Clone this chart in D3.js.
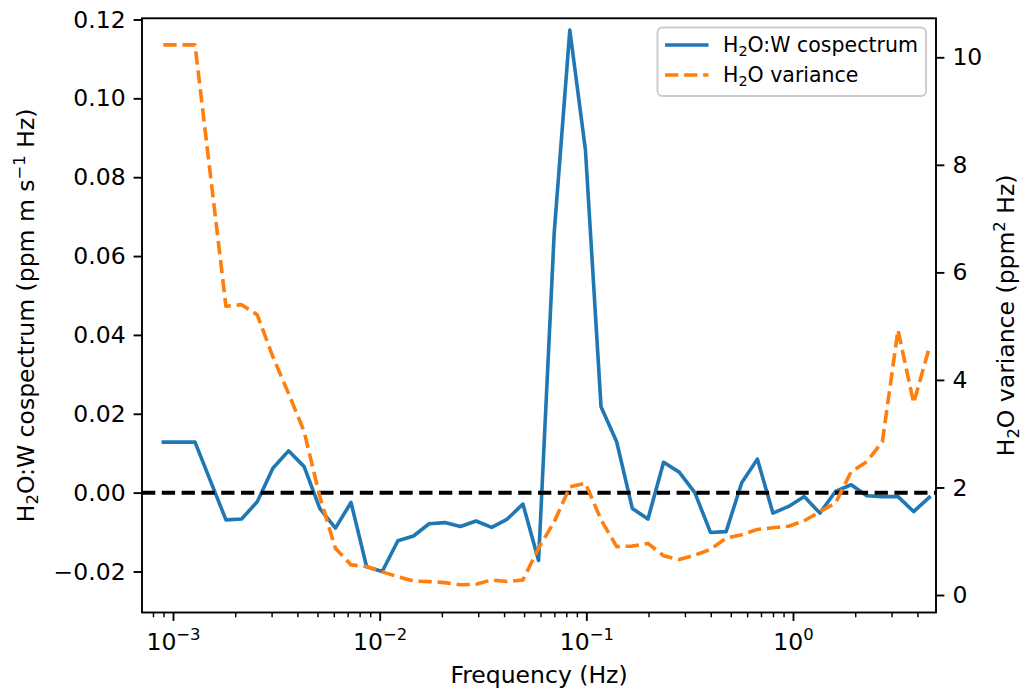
<!DOCTYPE html>
<html>
<head>
<meta charset="utf-8">
<script src="https://cdn.jsdelivr.net/npm/d3@7"></script>
<style>
  body { margin: 0; background: #fff; }
  text { font-family: "DejaVu Sans", sans-serif; fill: #000; }
</style>
</head>
<body>
<svg id="chart" width="1025" height="693"></svg>
<script>
// Frequency bins (Hz)
const frequency = [0.000898, 0.001278, 0.001804, 0.002148, 0.002557, 0.003043, 0.003622, 0.004311,
  0.005131, 0.006107, 0.007268, 0.00865, 0.01029, 0.01225, 0.01458, 0.01736, 0.02066, 0.02459,
  0.02926, 0.03483, 0.04146, 0.04934, 0.05873, 0.0699, 0.0832, 0.09902, 0.1178, 0.1402, 0.1669,
  0.1987, 0.2365, 0.2814, 0.335, 0.3988, 0.4746, 0.5648, 0.6723, 0.8, 0.9524, 1.1335, 1.349,
  1.606, 1.911, 2.275, 2.707, 3.222, 3.835, 4.565];

// H2O:W cospectrum (ppm m s^-1 Hz)
const cospectrum = [0.0128, 0.0128, -0.0069, -0.0067, -0.0023, 0.0062, 0.0106, 0.0066,
  -0.0040, -0.0090, -0.0025, -0.0188, -0.0200, -0.0122, -0.0110, -0.0079, -0.0076, -0.0086,
  -0.0072, -0.0088, -0.0067, -0.0029, -0.0172, 0.0658, 0.1173, 0.0869, 0.0218, 0.0129,
  -0.0040, -0.0067, 0.0077, 0.0052, 0.0000, -0.0101, -0.0099, 0.0025, 0.0085, -0.0052,
  -0.0035, -0.0010, -0.0052, 0.0003, 0.0020, -0.0008, -0.0010, -0.0010, -0.0048, -0.0012];

// H2O variance (ppm^2 Hz)
const variance = [10.23, 10.23, 5.37, 5.40, 5.21, 4.43, 3.75, 3.04, 1.83, 0.87, 0.56, 0.53,
  0.43, 0.34, 0.26, 0.25, 0.23, 0.19, 0.20, 0.28, 0.25, 0.28, 0.87, 1.36, 2.01, 2.08, 1.40,
  0.90, 0.91, 0.96, 0.73, 0.66, 0.74, 0.85, 1.06, 1.12, 1.22, 1.25, 1.28, 1.38, 1.55, 1.71,
  2.29, 2.48, 2.85, 4.93, 3.57, 4.60];

const cospecTicks = [-0.02, 0.00, 0.02, 0.04, 0.06, 0.08, 0.10, 0.12];
const varianceTicks = [0, 2, 4, 6, 8, 10];
const freqTicks = [1e-3, 1e-2, 1e-1, 1];
const freqTickExponents = ["\u22123", "\u22122", "\u22121", "0"];

const legendLabels = ["cospectrum", "variance"];

const C_BLUE = "#1f77b4", C_ORANGE = "#ff7f0e";
const FS = 23.5;

const box = { left: 142, right: 936, top: 18.3, bottom: 612.5 };

const svg = d3.select("#chart");

const x = d3.scaleLog().domain([7.08e-4, 4.92]).range([box.left, box.right]);
const yL = d3.scaleLinear().domain([-0.0304, 0.1203]).range([box.bottom, box.top]);
const yR = d3.scaleLinear().domain([-0.325, 10.725]).range([box.bottom, box.top]);

const rows = frequency.map((f, i) => ({ f, c: cospectrum[i], v: variance[i] }));

// ---- data lines ----
const lineC = d3.line().x(d => x(d.f)).y(d => yL(d.c));
const lineV = d3.line().x(d => x(d.f)).y(d => yR(d.v));

svg.append("path").datum(rows)
  .attr("d", lineC)
  .attr("fill", "none").attr("stroke", C_BLUE)
  .attr("stroke-width", 3.6).attr("stroke-linejoin", "round").attr("stroke-linecap", "square");

// zero reference line
svg.append("line")
  .attr("x1", box.left).attr("x2", box.right)
  .attr("y1", yL(0)).attr("y2", yL(0))
  .attr("stroke", "#000").attr("stroke-width", 4)
  .attr("stroke-dasharray", "13.3,6.5");

svg.append("path").datum(rows)
  .attr("d", lineV)
  .attr("fill", "none").attr("stroke", C_ORANGE)
  .attr("stroke-width", 3.6).attr("stroke-linejoin", "round")
  .attr("stroke-dasharray", "13.3,5.8");

// ---- axes ----
const tickLen = 8.4, tickPad = 8;

const gL = svg.append("g").attr("transform", `translate(${box.left},0)`)
  .call(d3.axisLeft(yL).tickValues(cospecTicks).tickFormat(d3.format(".2f"))
    .tickSize(tickLen).tickPadding(tickPad));

const gR = svg.append("g").attr("transform", `translate(${box.right},0)`)
  .call(d3.axisRight(yR).tickValues(varianceTicks).tickFormat(d3.format("d"))
    .tickSize(tickLen).tickPadding(tickPad));

const minorTicks = x.ticks().filter(t => Math.abs(Math.log10(t) - Math.round(Math.log10(t))) > 1e-6);

const gXminor = svg.append("g").attr("transform", `translate(0,${box.bottom})`)
  .call(d3.axisBottom(x).tickValues(minorTicks).tickFormat("").tickSize(4.8));
gXminor.selectAll("line").attr("stroke-width", 1.45);

const gX = svg.append("g").attr("transform", `translate(0,${box.bottom})`)
  .call(d3.axisBottom(x).tickValues(freqTicks).tickFormat("")
    .tickSize(tickLen).tickPadding(tickPad));

[gL, gR, gX, gXminor].forEach(g => {
  g.select(".domain").remove();
  g.selectAll("text").attr("font-size", FS).attr("font-family", "DejaVu Sans").attr("fill", "#000");
});
[gL, gR, gX].forEach(g => g.selectAll(".tick line").attr("stroke-width", 1.9));

// power-of-ten labels on the frequency axis
gX.selectAll(".tick").each(function (d, i) {
  const t = d3.select(this).append("text")
    .attr("y", 37).attr("text-anchor", "middle")
    .attr("font-size", FS);
  t.append("tspan").text("10");
  t.append("tspan").attr("font-size", FS * 0.7).attr("dy", -10).text(freqTickExponents[i]);
});

// frame
svg.append("rect")
  .attr("x", box.left).attr("y", box.top)
  .attr("width", box.right - box.left).attr("height", box.bottom - box.top)
  .attr("fill", "none").attr("stroke", "#000").attr("stroke-width", 1.9);

// ---- axis titles ----
svg.append("text")
  .attr("x", (box.left + box.right) / 2).attr("y", 683)
  .attr("text-anchor", "middle").attr("font-size", FS)
  .text("Frequency (Hz)");

function h2o(sel, fs) {
  sel.append("tspan").text("H");
  sel.append("tspan").attr("font-size", fs * 0.7).attr("dy", fs * 0.2).text("2");
  sel.append("tspan").attr("dy", -fs * 0.2).text("O");
}

const tl = svg.append("text")
  .attr("transform", `translate(33.5,${(box.top + box.bottom) / 2}) rotate(-90)`)
  .attr("text-anchor", "middle").attr("font-size", FS);
h2o(tl, FS);
tl.append("tspan").text(":W cospectrum (ppm m s");
tl.append("tspan").attr("font-size", FS * 0.7).attr("dy", -FS * 0.38).text("\u22121");
tl.append("tspan").attr("dy", FS * 0.38).text(" Hz)");

const tr = svg.append("text")
  .attr("transform", `translate(1014,${(box.top + box.bottom) / 2}) rotate(-90)`)
  .attr("text-anchor", "middle").attr("font-size", FS);
h2o(tr, FS);
tr.append("tspan").text(" variance (ppm");
tr.append("tspan").attr("font-size", FS * 0.7).attr("dy", -FS * 0.38).text("2");
tr.append("tspan").attr("dy", FS * 0.38).text(" Hz)");

// ---- legend ----
const LFS = 20.5;
const leg = svg.append("g");
leg.append("rect")
  .attr("x", 657.5).attr("y", 27.5).attr("width", 268.5).attr("height", 68.5)
  .attr("rx", 5).attr("fill", "#fff").attr("fill-opacity", 0.8)
  .attr("stroke", "#cccccc").attr("stroke-width", 1.9);

const legendItems = [
  { color: C_BLUE, dash: null, y: 45, label: legendLabels[0], colon: true },
  { color: C_ORANGE, dash: "13.3,5.8", y: 75, label: legendLabels[1], colon: false }
];
legendItems.forEach(it => {
  leg.append("line")
    .attr("x1", 665).attr("x2", 708.5).attr("y1", it.y).attr("y2", it.y)
    .attr("stroke", it.color).attr("stroke-width", 3.6)
    .attr("stroke-dasharray", it.dash);
  const t = leg.append("text").attr("x", 723).attr("y", it.y + 7.3).attr("font-size", LFS);
  h2o(t, LFS);
  t.append("tspan").text((it.colon ? ":W " : " ") + it.label);
});
</script>
</body>
</html>
